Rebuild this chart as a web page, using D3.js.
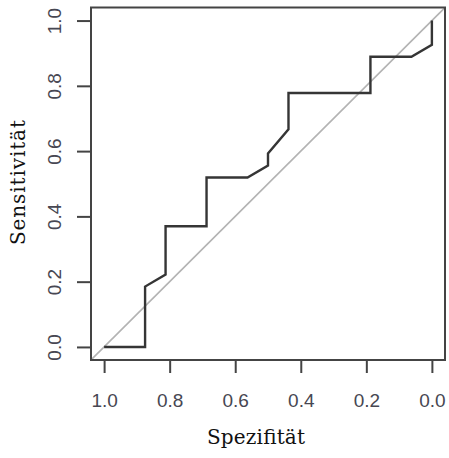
<!DOCTYPE html>
<html>
<head>
<meta charset="utf-8">
<script src="https://cdn.jsdelivr.net/npm/d3@7/dist/d3.min.js"></script>
<style>
  html, body { margin: 0; padding: 0; background: #fff; }
  svg { display: block; }
</style>
</head>
<body>
<script>
// ROC curve: specificity (x, reversed) against sensitivity (y)
const specificity = [1.0, 0.875, 0.875, 0.8125, 0.8125, 0.6875, 0.6875, 0.5625, 0.5, 0.5, 0.4375, 0.4375, 0.1875, 0.1875, 0.0625, 0.0, 0.0];
const sensitivity = [0.0, 0.0, 0.185, 0.222, 0.370, 0.370, 0.519, 0.519, 0.556, 0.593, 0.667, 0.778, 0.778, 0.889, 0.889, 0.926, 1.0];

const xTicks = [1.0, 0.8, 0.6, 0.4, 0.2, 0.0];
const yTicks = [0.0, 0.2, 0.4, 0.6, 0.8, 1.0];

const xTitle = "Spezifität";
const yTitle = "Sensitivität";

const W = 449, H = 458;
const box = { left: 91, right: 445, top: 7.5, bottom: 360 };

const svg = d3.select("body").append("svg")
  .attr("width", W).attr("height", H);

// R-style 4% padding around the data range
const x = d3.scaleLinear().domain([1.04, -0.04]).range([box.left, box.right]);
const y = d3.scaleLinear().domain([-0.04, 1.04]).range([box.bottom, box.top]);

svg.append("defs").append("clipPath").attr("id", "plotClip")
  .append("rect")
  .attr("x", box.left).attr("y", box.top)
  .attr("width", box.right - box.left).attr("height", box.bottom - box.top);

// chance diagonal (sens = 1 - spec), spanning the whole plot region
const diag = x.domain().map(d => [d, 1 - d]);
svg.append("path")
  .attr("clip-path", "url(#plotClip)")
  .attr("d", d3.line().x(d => x(d[0])).y(d => y(d[1]))(diag))
  .attr("fill", "none")
  .attr("stroke", "#b3b3b3")
  .attr("stroke-width", 1.6);

// ROC step curve
const pts = specificity.map((s, i) => [s, sensitivity[i]]);
svg.append("path")
  .attr("d", d3.line().x(d => x(d[0])).y(d => y(d[1]))(pts))
  .attr("fill", "none")
  .attr("stroke", "#353535")
  .attr("stroke-width", 2.4)
  .attr("stroke-linejoin", "miter");

// plot frame
svg.append("rect")
  .attr("x", box.left).attr("y", box.top)
  .attr("width", box.right - box.left).attr("height", box.bottom - box.top)
  .attr("fill", "none")
  .attr("stroke", "#444")
  .attr("stroke-width", 2);

const labelFont = "'Liberation Sans', Arial, sans-serif";
const labelColor = "#474752";

// bottom axis
const gx = svg.append("g")
  .attr("transform", `translate(0,${box.bottom + 1})`)
  .call(d3.axisBottom(x).tickValues(xTicks).tickSize(12).tickFormat(d3.format(".1f")));
gx.select(".domain").remove();
gx.selectAll(".tick line").attr("stroke", "#444").attr("stroke-width", 2);
gx.selectAll(".tick text")
  .attr("y", 46).attr("dy", 0)
  .attr("font-family", labelFont).attr("font-size", 19)
  .attr("fill", labelColor);

// left axis with labels rotated parallel to the axis
const gy = svg.append("g")
  .attr("transform", `translate(${box.left},0)`)
  .call(d3.axisLeft(y).tickValues(yTicks).tickSize(14).tickFormat(d3.format(".1f")));
gy.select(".domain").remove();
gy.selectAll(".tick line").attr("stroke", "#444").attr("stroke-width", 2);
gy.selectAll(".tick text")
  .attr("transform", "rotate(-90)")
  .attr("x", 0).attr("y", -30).attr("dy", 0)
  .attr("text-anchor", "middle")
  .attr("font-family", labelFont).attr("font-size", 19)
  .attr("fill", labelColor);

// axis titles
const titleFont = "'DejaVu Serif', 'Liberation Serif', serif";
svg.append("text")
  .attr("x", 256).attr("y", 444)
  .attr("text-anchor", "middle")
  .attr("font-family", titleFont).attr("font-size", 20)
  .attr("textLength", 98).attr("lengthAdjust", "spacing")
  .attr("fill", "#111")
  .text(xTitle);

svg.append("text")
  .attr("transform", "translate(25,182.5) rotate(-90)")
  .attr("text-anchor", "middle")
  .attr("font-family", titleFont).attr("font-size", 20)
  .attr("textLength", 125).attr("lengthAdjust", "spacing")
  .attr("fill", "#111")
  .text(yTitle);
</script>
</body>
</html>
